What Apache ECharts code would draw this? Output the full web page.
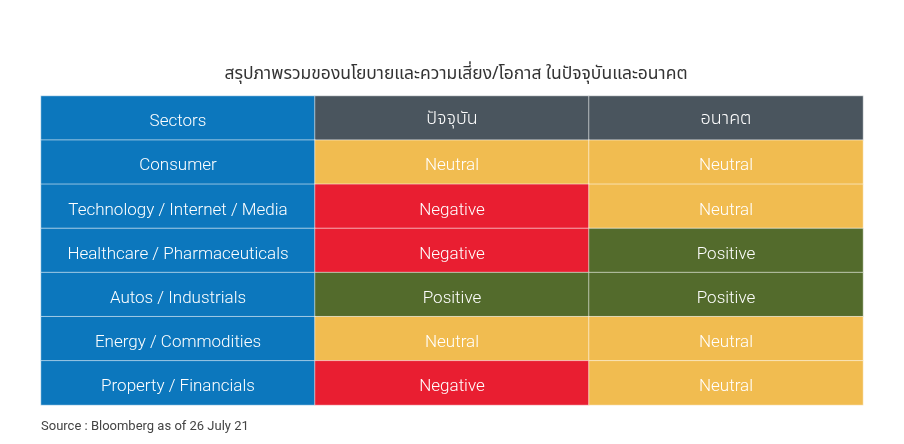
<!DOCTYPE html>
<html><head><meta charset="utf-8">
<script src="https://cdn.jsdelivr.net/npm/echarts@6/dist/echarts.min.js"></script>
<style>html,body{margin:0;padding:0;background:#fff}#c{width:904px;height:444px}</style>
</head><body><div id="c"></div>
<script>
const columns = ['Sectors', 'ปัจจุบัน', 'อนาคต'];
const sectors = ['Consumer', 'Technology / Internet / Media', 'Healthcare / Pharmaceuticals', 'Autos / Industrials', 'Energy / Commodities', 'Property / Financials'];
const current = ['Neutral', 'Negative', 'Negative', 'Positive', 'Neutral', 'Negative'];
const future = ['Neutral', 'Neutral', 'Positive', 'Positive', 'Neutral', 'Neutral'];
const title = 'สรุปภาพรวมของนโยบายและความเสี่ยง/โอกาส ในปัจจุบันและอนาคต';
const source = 'Source : Bloomberg as of 26 July 21';

const colorFor = {Neutral:'#f1bc50', Negative:'#e91e31', Positive:'#536b2c', sector:'#0c77bd', header:'#4a555e'};
const thaiFont = '"Noto Sans Thai", "Noto Sans Thai Looped", Roboto, sans-serif';
const rows = ['header'].concat(sectors.map((s,i)=>'r'+i));
const data = [];
columns.forEach((c, ci) => data.push({value:[ci, 0, 0], label: ci===0 ? {formatter:c} : {formatter:c, fontFamily:thaiFont, fontWeight:300, fontSize:18, offset:[0,2]}, itemStyle:{color: ci===0 ? colorFor.sector : colorFor.header}}));
sectors.forEach((s, i) => {
  data.push({value:[0, i+1, 0], label:{formatter:s}, itemStyle:{color:colorFor.sector}});
  data.push({value:[1, i+1, 0], label:{formatter:current[i]}, itemStyle:{color:colorFor[current[i]]}});
  data.push({value:[2, i+1, 0], label:{formatter:future[i]}, itemStyle:{color:colorFor[future[i]]}});
});
const chart = echarts.init(document.getElementById('c'), null, {renderer:'canvas'});
chart.setOption({
  animation:false,
  backgroundColor:'#fff',
  title:[{text:title, left:451, top:61, textAlign:'center', textStyle:{fontFamily:thaiFont, fontSize:17.5, fontWeight:'normal', color:'#333'}},
         {text:source, left:36, top:415, textStyle:{fontFamily:'Roboto, sans-serif', fontSize:13, fontWeight:'normal', color:'#444'}}],
  grid:{left:41, right:41, top:96, bottom:39},
  xAxis:{type:'category', data:columns, show:false},
  yAxis:{type:'category', data:rows, inverse:true, show:false},
  series:[{type:'heatmap', data:data,
    itemStyle:{borderColor:'rgba(255,255,255,0.55)', borderWidth:1},
    label:{show:true, color:'#fff', fontFamily:'Roboto, sans-serif', fontSize:17, fontWeight:300, textBorderWidth:0, offset:[0,4]}}]
});
</script></body></html>
